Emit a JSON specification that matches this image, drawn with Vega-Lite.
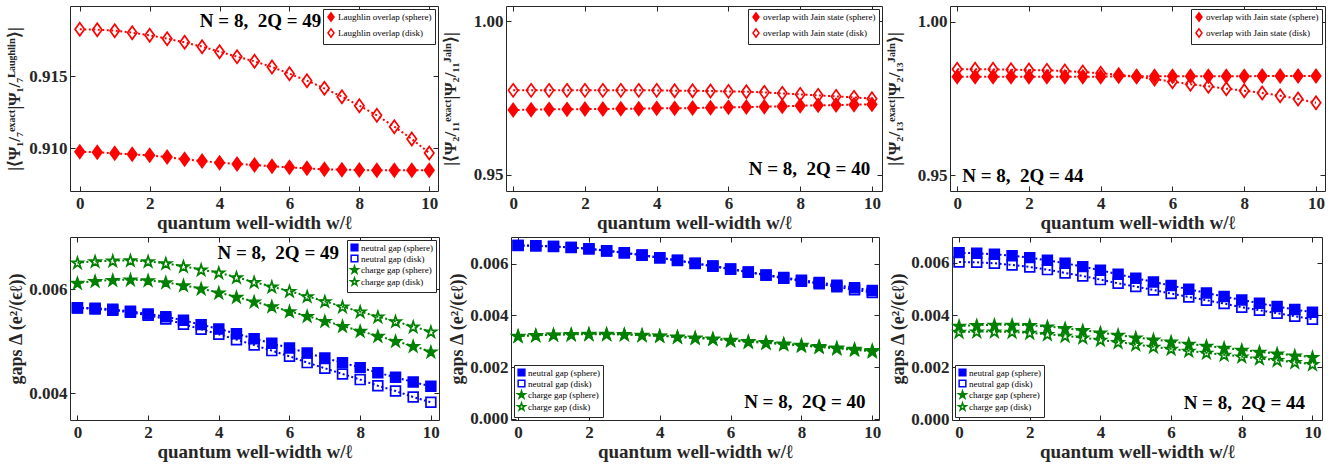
{
"$schema": "https://vega.github.io/schema/vega-lite/v6.json",
"padding": {"left": 4, "top": 5, "right": 5, "bottom": 3},
"config": {
 "font": "Liberation Serif",
 "view": {"stroke": "#262626", "strokeWidth": 1},
 "axis": {"labelFont": "Liberation Serif", "labelFontWeight": "bold", "labelFontSize": 17, "labelColor": "#262626", "titleFont": "Liberation Serif", "titleFontWeight": "bold", "titleFontSize": 19, "titleColor": "#262626", "tickColor": "#262626", "tickSize": -5, "tickWidth": 1, "domain": false, "grid": false, "labelPadding": 9, "titlePadding": 2, "labelFlush": false, "labelOverlap": false},
 "axisLeft": {"minExtent": 44, "maxExtent": 44, "titlePadding": 3, "titleFontSize": 17, "labelPadding": 8},
 "legend": {"offset": 3, "strokeColor": "#262626", "fillColor": "white", "padding": 3, "labelFont": "Liberation Serif", "labelFontSize": 9, "labelColor": "#000", "symbolSize": 70, "symbolStrokeWidth": 1.5, "rowPadding": 0, "labelOffset": 2, "cornerRadius": 0}
},
"datasets": {
 "p1": [
  {"w":0,"v":0.909769,"s":"Laughlin overlap (sphere)"},{"w":0.5,"v":0.909722,"s":"Laughlin overlap (sphere)"},{"w":1,"v":0.909653,"s":"Laughlin overlap (sphere)"},{"w":1.5,"v":0.909583,"s":"Laughlin overlap (sphere)"},{"w":2,"v":0.909514,"s":"Laughlin overlap (sphere)"},{"w":2.5,"v":0.909398,"s":"Laughlin overlap (sphere)"},{"w":3,"v":0.909236,"s":"Laughlin overlap (sphere)"},{"w":3.5,"v":0.90912,"s":"Laughlin overlap (sphere)"},{"w":4,"v":0.909005,"s":"Laughlin overlap (sphere)"},{"w":4.5,"v":0.908912,"s":"Laughlin overlap (sphere)"},{"w":5,"v":0.908843,"s":"Laughlin overlap (sphere)"},{"w":5.5,"v":0.90875,"s":"Laughlin overlap (sphere)"},{"w":6,"v":0.908681,"s":"Laughlin overlap (sphere)"},{"w":6.5,"v":0.908611,"s":"Laughlin overlap (sphere)"},{"w":7,"v":0.908542,"s":"Laughlin overlap (sphere)"},{"w":7.5,"v":0.908519,"s":"Laughlin overlap (sphere)"},{"w":8,"v":0.908495,"s":"Laughlin overlap (sphere)"},{"w":8.5,"v":0.908472,"s":"Laughlin overlap (sphere)"},{"w":9,"v":0.908472,"s":"Laughlin overlap (sphere)"},{"w":9.5,"v":0.908472,"s":"Laughlin overlap (sphere)"},{"w":10,"v":0.908472,"s":"Laughlin overlap (sphere)"},
  {"w":0,"v":0.918264,"s":"Laughlin overlap (disk)"},{"w":0.5,"v":0.918241,"s":"Laughlin overlap (disk)"},{"w":1,"v":0.918171,"s":"Laughlin overlap (disk)"},{"w":1.5,"v":0.918032,"s":"Laughlin overlap (disk)"},{"w":2,"v":0.917847,"s":"Laughlin overlap (disk)"},{"w":2.5,"v":0.917616,"s":"Laughlin overlap (disk)"},{"w":3,"v":0.917361,"s":"Laughlin overlap (disk)"},{"w":3.5,"v":0.91706,"s":"Laughlin overlap (disk)"},{"w":4,"v":0.916713,"s":"Laughlin overlap (disk)"},{"w":4.5,"v":0.916366,"s":"Laughlin overlap (disk)"},{"w":5,"v":0.916042,"s":"Laughlin overlap (disk)"},{"w":5.5,"v":0.915648,"s":"Laughlin overlap (disk)"},{"w":6,"v":0.915185,"s":"Laughlin overlap (disk)"},{"w":6.5,"v":0.914699,"s":"Laughlin overlap (disk)"},{"w":7,"v":0.914167,"s":"Laughlin overlap (disk)"},{"w":7.5,"v":0.913588,"s":"Laughlin overlap (disk)"},{"w":8,"v":0.912963,"s":"Laughlin overlap (disk)"},{"w":8.5,"v":0.912292,"s":"Laughlin overlap (disk)"},{"w":9,"v":0.911505,"s":"Laughlin overlap (disk)"},{"w":9.5,"v":0.910648,"s":"Laughlin overlap (disk)"},{"w":10,"v":0.909676,"s":"Laughlin overlap (disk)"}
 ],
 "p2": [
  {"w":0,"v":0.9711,"s":"overlap with Jain state (sphere)"},{"w":0.5,"v":0.97121,"s":"overlap with Jain state (sphere)"},{"w":1,"v":0.97132,"s":"overlap with Jain state (sphere)"},{"w":1.5,"v":0.97132,"s":"overlap with Jain state (sphere)"},{"w":2,"v":0.97143,"s":"overlap with Jain state (sphere)"},{"w":2.5,"v":0.97143,"s":"overlap with Jain state (sphere)"},{"w":3,"v":0.97154,"s":"overlap with Jain state (sphere)"},{"w":3.5,"v":0.97154,"s":"overlap with Jain state (sphere)"},{"w":4,"v":0.97165,"s":"overlap with Jain state (sphere)"},{"w":4.5,"v":0.97165,"s":"overlap with Jain state (sphere)"},{"w":5,"v":0.97175,"s":"overlap with Jain state (sphere)"},{"w":5.5,"v":0.97186,"s":"overlap with Jain state (sphere)"},{"w":6,"v":0.97197,"s":"overlap with Jain state (sphere)"},{"w":6.5,"v":0.97208,"s":"overlap with Jain state (sphere)"},{"w":7,"v":0.97219,"s":"overlap with Jain state (sphere)"},{"w":7.5,"v":0.97229,"s":"overlap with Jain state (sphere)"},{"w":8,"v":0.97251,"s":"overlap with Jain state (sphere)"},{"w":8.5,"v":0.97262,"s":"overlap with Jain state (sphere)"},{"w":9,"v":0.97273,"s":"overlap with Jain state (sphere)"},{"w":9.5,"v":0.97284,"s":"overlap with Jain state (sphere)"},{"w":10,"v":0.97294,"s":"overlap with Jain state (sphere)"},
  {"w":0,"v":0.97749,"s":"overlap with Jain state (disk)"},{"w":0.5,"v":0.97749,"s":"overlap with Jain state (disk)"},{"w":1,"v":0.97749,"s":"overlap with Jain state (disk)"},{"w":1.5,"v":0.97749,"s":"overlap with Jain state (disk)"},{"w":2,"v":0.97749,"s":"overlap with Jain state (disk)"},{"w":2.5,"v":0.97749,"s":"overlap with Jain state (disk)"},{"w":3,"v":0.97749,"s":"overlap with Jain state (disk)"},{"w":3.5,"v":0.97749,"s":"overlap with Jain state (disk)"},{"w":4,"v":0.97749,"s":"overlap with Jain state (disk)"},{"w":4.5,"v":0.97738,"s":"overlap with Jain state (disk)"},{"w":5,"v":0.97738,"s":"overlap with Jain state (disk)"},{"w":5.5,"v":0.97727,"s":"overlap with Jain state (disk)"},{"w":6,"v":0.97716,"s":"overlap with Jain state (disk)"},{"w":6.5,"v":0.97706,"s":"overlap with Jain state (disk)"},{"w":7,"v":0.97684,"s":"overlap with Jain state (disk)"},{"w":7.5,"v":0.97652,"s":"overlap with Jain state (disk)"},{"w":8,"v":0.97619,"s":"overlap with Jain state (disk)"},{"w":8.5,"v":0.97587,"s":"overlap with Jain state (disk)"},{"w":9,"v":0.97554,"s":"overlap with Jain state (disk)"},{"w":9.5,"v":0.97522,"s":"overlap with Jain state (disk)"},{"w":10,"v":0.97478,"s":"overlap with Jain state (disk)"}
 ],
 "p3": [
  {"w":0,"v":0.9821,"s":"overlap with Jain state (sphere)"},{"w":0.5,"v":0.9821,"s":"overlap with Jain state (sphere)"},{"w":1,"v":0.9821,"s":"overlap with Jain state (sphere)"},{"w":1.5,"v":0.9821,"s":"overlap with Jain state (sphere)"},{"w":2,"v":0.9821,"s":"overlap with Jain state (sphere)"},{"w":2.5,"v":0.9821,"s":"overlap with Jain state (sphere)"},{"w":3,"v":0.9821,"s":"overlap with Jain state (sphere)"},{"w":3.5,"v":0.9821,"s":"overlap with Jain state (sphere)"},{"w":4,"v":0.9821,"s":"overlap with Jain state (sphere)"},{"w":4.5,"v":0.98221,"s":"overlap with Jain state (sphere)"},{"w":5,"v":0.98221,"s":"overlap with Jain state (sphere)"},{"w":5.5,"v":0.98221,"s":"overlap with Jain state (sphere)"},{"w":6,"v":0.98221,"s":"overlap with Jain state (sphere)"},{"w":6.5,"v":0.98221,"s":"overlap with Jain state (sphere)"},{"w":7,"v":0.98221,"s":"overlap with Jain state (sphere)"},{"w":7.5,"v":0.98221,"s":"overlap with Jain state (sphere)"},{"w":8,"v":0.98221,"s":"overlap with Jain state (sphere)"},{"w":8.5,"v":0.98232,"s":"overlap with Jain state (sphere)"},{"w":9,"v":0.98232,"s":"overlap with Jain state (sphere)"},{"w":9.5,"v":0.98232,"s":"overlap with Jain state (sphere)"},{"w":10,"v":0.98232,"s":"overlap with Jain state (sphere)"},
  {"w":0,"v":0.98449,"s":"overlap with Jain state (disk)"},{"w":0.5,"v":0.98449,"s":"overlap with Jain state (disk)"},{"w":1,"v":0.98449,"s":"overlap with Jain state (disk)"},{"w":1.5,"v":0.98438,"s":"overlap with Jain state (disk)"},{"w":2,"v":0.98427,"s":"overlap with Jain state (disk)"},{"w":2.5,"v":0.98416,"s":"overlap with Jain state (disk)"},{"w":3,"v":0.98395,"s":"overlap with Jain state (disk)"},{"w":3.5,"v":0.98362,"s":"overlap with Jain state (disk)"},{"w":4,"v":0.98319,"s":"overlap with Jain state (disk)"},{"w":4.5,"v":0.98275,"s":"overlap with Jain state (disk)"},{"w":5,"v":0.9821,"s":"overlap with Jain state (disk)"},{"w":5.5,"v":0.98134,"s":"overlap with Jain state (disk)"},{"w":6,"v":0.98048,"s":"overlap with Jain state (disk)"},{"w":6.5,"v":0.97961,"s":"overlap with Jain state (disk)"},{"w":7,"v":0.97896,"s":"overlap with Jain state (disk)"},{"w":7.5,"v":0.9782,"s":"overlap with Jain state (disk)"},{"w":8,"v":0.97755,"s":"overlap with Jain state (disk)"},{"w":8.5,"v":0.97679,"s":"overlap with Jain state (disk)"},{"w":9,"v":0.97592,"s":"overlap with Jain state (disk)"},{"w":9.5,"v":0.97484,"s":"overlap with Jain state (disk)"},{"w":10,"v":0.97364,"s":"overlap with Jain state (disk)"}
 ],
 "p4": [
  {"w":0,"v":0.005647,"s":"neutral gap (sphere)"},{"w":0.5,"v":0.005635,"s":"neutral gap (sphere)"},{"w":1,"v":0.005615,"s":"neutral gap (sphere)"},{"w":1.5,"v":0.005577,"s":"neutral gap (sphere)"},{"w":2,"v":0.005526,"s":"neutral gap (sphere)"},{"w":2.5,"v":0.005474,"s":"neutral gap (sphere)"},{"w":3,"v":0.005404,"s":"neutral gap (sphere)"},{"w":3.5,"v":0.005321,"s":"neutral gap (sphere)"},{"w":4,"v":0.005237,"s":"neutral gap (sphere)"},{"w":4.5,"v":0.005147,"s":"neutral gap (sphere)"},{"w":5,"v":0.005051,"s":"neutral gap (sphere)"},{"w":5.5,"v":0.004962,"s":"neutral gap (sphere)"},{"w":6,"v":0.004872,"s":"neutral gap (sphere)"},{"w":6.5,"v":0.004776,"s":"neutral gap (sphere)"},{"w":7,"v":0.004679,"s":"neutral gap (sphere)"},{"w":7.5,"v":0.00459,"s":"neutral gap (sphere)"},{"w":8,"v":0.004494,"s":"neutral gap (sphere)"},{"w":8.5,"v":0.004397,"s":"neutral gap (sphere)"},{"w":9,"v":0.004308,"s":"neutral gap (sphere)"},{"w":9.5,"v":0.004218,"s":"neutral gap (sphere)"},{"w":10,"v":0.004135,"s":"neutral gap (sphere)"},
  {"w":0,"v":0.005641,"s":"neutral gap (disk)"},{"w":0.5,"v":0.005622,"s":"neutral gap (disk)"},{"w":1,"v":0.005596,"s":"neutral gap (disk)"},{"w":1.5,"v":0.005558,"s":"neutral gap (disk)"},{"w":2,"v":0.0055,"s":"neutral gap (disk)"},{"w":2.5,"v":0.005429,"s":"neutral gap (disk)"},{"w":3,"v":0.00533,"s":"neutral gap (disk)"},{"w":3.5,"v":0.005231,"s":"neutral gap (disk)"},{"w":4,"v":0.005135,"s":"neutral gap (disk)"},{"w":4.5,"v":0.005032,"s":"neutral gap (disk)"},{"w":5,"v":0.004929,"s":"neutral gap (disk)"},{"w":5.5,"v":0.004821,"s":"neutral gap (disk)"},{"w":6,"v":0.004712,"s":"neutral gap (disk)"},{"w":6.5,"v":0.00459,"s":"neutral gap (disk)"},{"w":7,"v":0.004481,"s":"neutral gap (disk)"},{"w":7.5,"v":0.004372,"s":"neutral gap (disk)"},{"w":8,"v":0.004263,"s":"neutral gap (disk)"},{"w":8.5,"v":0.004147,"s":"neutral gap (disk)"},{"w":9,"v":0.004045,"s":"neutral gap (disk)"},{"w":9.5,"v":0.003929,"s":"neutral gap (disk)"},{"w":10,"v":0.003827,"s":"neutral gap (disk)"},
  {"w":0,"v":0.006122,"s":"charge gap (sphere)"},{"w":0.5,"v":0.00616,"s":"charge gap (sphere)"},{"w":1,"v":0.006179,"s":"charge gap (sphere)"},{"w":1.5,"v":0.006186,"s":"charge gap (sphere)"},{"w":2,"v":0.006173,"s":"charge gap (sphere)"},{"w":2.5,"v":0.006135,"s":"charge gap (sphere)"},{"w":3,"v":0.006077,"s":"charge gap (sphere)"},{"w":3.5,"v":0.006013,"s":"charge gap (sphere)"},{"w":4,"v":0.005936,"s":"charge gap (sphere)"},{"w":4.5,"v":0.005853,"s":"charge gap (sphere)"},{"w":5,"v":0.005763,"s":"charge gap (sphere)"},{"w":5.5,"v":0.005673,"s":"charge gap (sphere)"},{"w":6,"v":0.005577,"s":"charge gap (sphere)"},{"w":6.5,"v":0.005487,"s":"charge gap (sphere)"},{"w":7,"v":0.005391,"s":"charge gap (sphere)"},{"w":7.5,"v":0.005295,"s":"charge gap (sphere)"},{"w":8,"v":0.005199,"s":"charge gap (sphere)"},{"w":8.5,"v":0.005103,"s":"charge gap (sphere)"},{"w":9,"v":0.005006,"s":"charge gap (sphere)"},{"w":9.5,"v":0.00491,"s":"charge gap (sphere)"},{"w":10,"v":0.004801,"s":"charge gap (sphere)"},
  {"w":0,"v":0.006513,"s":"charge gap (disk)"},{"w":0.5,"v":0.006538,"s":"charge gap (disk)"},{"w":1,"v":0.006551,"s":"charge gap (disk)"},{"w":1.5,"v":0.006558,"s":"charge gap (disk)"},{"w":2,"v":0.006538,"s":"charge gap (disk)"},{"w":2.5,"v":0.0065,"s":"charge gap (disk)"},{"w":3,"v":0.006442,"s":"charge gap (disk)"},{"w":3.5,"v":0.006378,"s":"charge gap (disk)"},{"w":4,"v":0.006321,"s":"charge gap (disk)"},{"w":4.5,"v":0.006231,"s":"charge gap (disk)"},{"w":5,"v":0.006141,"s":"charge gap (disk)"},{"w":5.5,"v":0.006051,"s":"charge gap (disk)"},{"w":6,"v":0.005968,"s":"charge gap (disk)"},{"w":6.5,"v":0.005865,"s":"charge gap (disk)"},{"w":7,"v":0.005769,"s":"charge gap (disk)"},{"w":7.5,"v":0.005667,"s":"charge gap (disk)"},{"w":8,"v":0.005571,"s":"charge gap (disk)"},{"w":8.5,"v":0.005474,"s":"charge gap (disk)"},{"w":9,"v":0.005385,"s":"charge gap (disk)"},{"w":9.5,"v":0.005282,"s":"charge gap (disk)"},{"w":10,"v":0.005186,"s":"charge gap (disk)"}
 ],
 "p5": [
  {"w":0,"v":0.006705,"s":"neutral gap (sphere)"},{"w":0.5,"v":0.006692,"s":"neutral gap (sphere)"},{"w":1,"v":0.006667,"s":"neutral gap (sphere)"},{"w":1.5,"v":0.006628,"s":"neutral gap (sphere)"},{"w":2,"v":0.006577,"s":"neutral gap (sphere)"},{"w":2.5,"v":0.0065,"s":"neutral gap (sphere)"},{"w":3,"v":0.006423,"s":"neutral gap (sphere)"},{"w":3.5,"v":0.006333,"s":"neutral gap (sphere)"},{"w":4,"v":0.006231,"s":"neutral gap (sphere)"},{"w":4.5,"v":0.006128,"s":"neutral gap (sphere)"},{"w":5,"v":0.006013,"s":"neutral gap (sphere)"},{"w":5.5,"v":0.00591,"s":"neutral gap (sphere)"},{"w":6,"v":0.005795,"s":"neutral gap (sphere)"},{"w":6.5,"v":0.005679,"s":"neutral gap (sphere)"},{"w":7,"v":0.005564,"s":"neutral gap (sphere)"},{"w":7.5,"v":0.005462,"s":"neutral gap (sphere)"},{"w":8,"v":0.005359,"s":"neutral gap (sphere)"},{"w":8.5,"v":0.005269,"s":"neutral gap (sphere)"},{"w":9,"v":0.005167,"s":"neutral gap (sphere)"},{"w":9.5,"v":0.005064,"s":"neutral gap (sphere)"},{"w":10,"v":0.004962,"s":"neutral gap (sphere)"},
  {"w":0,"v":0.0067,"s":"neutral gap (disk)"},{"w":0.5,"v":0.006687,"s":"neutral gap (disk)"},{"w":1,"v":0.00666,"s":"neutral gap (disk)"},{"w":1.5,"v":0.00662,"s":"neutral gap (disk)"},{"w":2,"v":0.00657,"s":"neutral gap (disk)"},{"w":2.5,"v":0.006492,"s":"neutral gap (disk)"},{"w":3,"v":0.006415,"s":"neutral gap (disk)"},{"w":3.5,"v":0.006325,"s":"neutral gap (disk)"},{"w":4,"v":0.006222,"s":"neutral gap (disk)"},{"w":4.5,"v":0.006118,"s":"neutral gap (disk)"},{"w":5,"v":0.006003,"s":"neutral gap (disk)"},{"w":5.5,"v":0.005898,"s":"neutral gap (disk)"},{"w":6,"v":0.005782,"s":"neutral gap (disk)"},{"w":6.5,"v":0.005665,"s":"neutral gap (disk)"},{"w":7,"v":0.005548,"s":"neutral gap (disk)"},{"w":7.5,"v":0.005436,"s":"neutral gap (disk)"},{"w":8,"v":0.005321,"s":"neutral gap (disk)"},{"w":8.5,"v":0.005218,"s":"neutral gap (disk)"},{"w":9,"v":0.005103,"s":"neutral gap (disk)"},{"w":9.5,"v":0.004987,"s":"neutral gap (disk)"},{"w":10,"v":0.004885,"s":"neutral gap (disk)"},
  {"w":0,"v":0.003205,"s":"charge gap (sphere)"},{"w":0.5,"v":0.003231,"s":"charge gap (sphere)"},{"w":1,"v":0.003256,"s":"charge gap (sphere)"},{"w":1.5,"v":0.003269,"s":"charge gap (sphere)"},{"w":2,"v":0.003282,"s":"charge gap (sphere)"},{"w":2.5,"v":0.003282,"s":"charge gap (sphere)"},{"w":3,"v":0.003269,"s":"charge gap (sphere)"},{"w":3.5,"v":0.003244,"s":"charge gap (sphere)"},{"w":4,"v":0.003218,"s":"charge gap (sphere)"},{"w":4.5,"v":0.003179,"s":"charge gap (sphere)"},{"w":5,"v":0.003141,"s":"charge gap (sphere)"},{"w":5.5,"v":0.003103,"s":"charge gap (sphere)"},{"w":6,"v":0.003051,"s":"charge gap (sphere)"},{"w":6.5,"v":0.003,"s":"charge gap (sphere)"},{"w":7,"v":0.002962,"s":"charge gap (sphere)"},{"w":7.5,"v":0.00291,"s":"charge gap (sphere)"},{"w":8,"v":0.002859,"s":"charge gap (sphere)"},{"w":8.5,"v":0.002808,"s":"charge gap (sphere)"},{"w":9,"v":0.002756,"s":"charge gap (sphere)"},{"w":9.5,"v":0.002705,"s":"charge gap (sphere)"},{"w":10,"v":0.002654,"s":"charge gap (sphere)"},
  {"w":0,"v":0.0032,"s":"charge gap (disk)"},{"w":0.5,"v":0.003225,"s":"charge gap (disk)"},{"w":1,"v":0.003249,"s":"charge gap (disk)"},{"w":1.5,"v":0.003261,"s":"charge gap (disk)"},{"w":2,"v":0.003272,"s":"charge gap (disk)"},{"w":2.5,"v":0.003271,"s":"charge gap (disk)"},{"w":3,"v":0.003256,"s":"charge gap (disk)"},{"w":3.5,"v":0.003229,"s":"charge gap (disk)"},{"w":4,"v":0.003201,"s":"charge gap (disk)"},{"w":4.5,"v":0.00316,"s":"charge gap (disk)"},{"w":5,"v":0.00312,"s":"charge gap (disk)"},{"w":5.5,"v":0.00308,"s":"charge gap (disk)"},{"w":6,"v":0.003026,"s":"charge gap (disk)"},{"w":6.5,"v":0.002973,"s":"charge gap (disk)"},{"w":7,"v":0.002933,"s":"charge gap (disk)"},{"w":7.5,"v":0.002879,"s":"charge gap (disk)"},{"w":8,"v":0.002826,"s":"charge gap (disk)"},{"w":8.5,"v":0.002773,"s":"charge gap (disk)"},{"w":9,"v":0.002719,"s":"charge gap (disk)"},{"w":9.5,"v":0.002666,"s":"charge gap (disk)"},{"w":10,"v":0.002603,"s":"charge gap (disk)"}
 ],
 "p6": [
  {"w":0,"v":0.006395,"s":"neutral gap (sphere)"},{"w":0.5,"v":0.006369,"s":"neutral gap (sphere)"},{"w":1,"v":0.006331,"s":"neutral gap (sphere)"},{"w":1.5,"v":0.00628,"s":"neutral gap (sphere)"},{"w":2,"v":0.006204,"s":"neutral gap (sphere)"},{"w":2.5,"v":0.006102,"s":"neutral gap (sphere)"},{"w":3,"v":0.005987,"s":"neutral gap (sphere)"},{"w":3.5,"v":0.00586,"s":"neutral gap (sphere)"},{"w":4,"v":0.00572,"s":"neutral gap (sphere)"},{"w":4.5,"v":0.005567,"s":"neutral gap (sphere)"},{"w":5,"v":0.005414,"s":"neutral gap (sphere)"},{"w":5.5,"v":0.005274,"s":"neutral gap (sphere)"},{"w":6,"v":0.005134,"s":"neutral gap (sphere)"},{"w":6.5,"v":0.004994,"s":"neutral gap (sphere)"},{"w":7,"v":0.004854,"s":"neutral gap (sphere)"},{"w":7.5,"v":0.004713,"s":"neutral gap (sphere)"},{"w":8,"v":0.004586,"s":"neutral gap (sphere)"},{"w":8.5,"v":0.004459,"s":"neutral gap (sphere)"},{"w":9,"v":0.004331,"s":"neutral gap (sphere)"},{"w":9.5,"v":0.004217,"s":"neutral gap (sphere)"},{"w":10,"v":0.004115,"s":"neutral gap (sphere)"},
  {"w":0,"v":0.006038,"s":"neutral gap (disk)"},{"w":0.5,"v":0.006025,"s":"neutral gap (disk)"},{"w":1,"v":0.005987,"s":"neutral gap (disk)"},{"w":1.5,"v":0.005924,"s":"neutral gap (disk)"},{"w":2,"v":0.005847,"s":"neutral gap (disk)"},{"w":2.5,"v":0.005745,"s":"neutral gap (disk)"},{"w":3,"v":0.005618,"s":"neutral gap (disk)"},{"w":3.5,"v":0.005503,"s":"neutral gap (disk)"},{"w":4,"v":0.005363,"s":"neutral gap (disk)"},{"w":4.5,"v":0.005223,"s":"neutral gap (disk)"},{"w":5,"v":0.005096,"s":"neutral gap (disk)"},{"w":5.5,"v":0.004968,"s":"neutral gap (disk)"},{"w":6,"v":0.004828,"s":"neutral gap (disk)"},{"w":6.5,"v":0.004701,"s":"neutral gap (disk)"},{"w":7,"v":0.004573,"s":"neutral gap (disk)"},{"w":7.5,"v":0.004446,"s":"neutral gap (disk)"},{"w":8,"v":0.004306,"s":"neutral gap (disk)"},{"w":8.5,"v":0.004191,"s":"neutral gap (disk)"},{"w":9,"v":0.004076,"s":"neutral gap (disk)"},{"w":9.5,"v":0.003962,"s":"neutral gap (disk)"},{"w":10,"v":0.003847,"s":"neutral gap (disk)"},
  {"w":0,"v":0.003592,"s":"charge gap (sphere)"},{"w":0.5,"v":0.003618,"s":"charge gap (sphere)"},{"w":1,"v":0.003631,"s":"charge gap (sphere)"},{"w":1.5,"v":0.003631,"s":"charge gap (sphere)"},{"w":2,"v":0.003618,"s":"charge gap (sphere)"},{"w":2.5,"v":0.003567,"s":"charge gap (sphere)"},{"w":3,"v":0.003503,"s":"charge gap (sphere)"},{"w":3.5,"v":0.003427,"s":"charge gap (sphere)"},{"w":4,"v":0.003338,"s":"charge gap (sphere)"},{"w":4.5,"v":0.003248,"s":"charge gap (sphere)"},{"w":5,"v":0.003146,"s":"charge gap (sphere)"},{"w":5.5,"v":0.00307,"s":"charge gap (sphere)"},{"w":6,"v":0.002994,"s":"charge gap (sphere)"},{"w":6.5,"v":0.002904,"s":"charge gap (sphere)"},{"w":7,"v":0.002828,"s":"charge gap (sphere)"},{"w":7.5,"v":0.002752,"s":"charge gap (sphere)"},{"w":8,"v":0.002675,"s":"charge gap (sphere)"},{"w":8.5,"v":0.002599,"s":"charge gap (sphere)"},{"w":9,"v":0.002535,"s":"charge gap (sphere)"},{"w":9.5,"v":0.002459,"s":"charge gap (sphere)"},{"w":10,"v":0.002395,"s":"charge gap (sphere)"},
  {"w":0,"v":0.003363,"s":"charge gap (disk)"},{"w":0.5,"v":0.003376,"s":"charge gap (disk)"},{"w":1,"v":0.003376,"s":"charge gap (disk)"},{"w":1.5,"v":0.003363,"s":"charge gap (disk)"},{"w":2,"v":0.003325,"s":"charge gap (disk)"},{"w":2.5,"v":0.003274,"s":"charge gap (disk)"},{"w":3,"v":0.00321,"s":"charge gap (disk)"},{"w":3.5,"v":0.003146,"s":"charge gap (disk)"},{"w":4,"v":0.003057,"s":"charge gap (disk)"},{"w":4.5,"v":0.002968,"s":"charge gap (disk)"},{"w":5,"v":0.002879,"s":"charge gap (disk)"},{"w":5.5,"v":0.00279,"s":"charge gap (disk)"},{"w":6,"v":0.002713,"s":"charge gap (disk)"},{"w":6.5,"v":0.002637,"s":"charge gap (disk)"},{"w":7,"v":0.002561,"s":"charge gap (disk)"},{"w":7.5,"v":0.002484,"s":"charge gap (disk)"},{"w":8,"v":0.00242,"s":"charge gap (disk)"},{"w":8.5,"v":0.002344,"s":"charge gap (disk)"},{"w":9,"v":0.00228,"s":"charge gap (disk)"},{"w":9.5,"v":0.002204,"s":"charge gap (disk)"},{"w":10,"v":0.002127,"s":"charge gap (disk)"}
 ]
},
"spacing": 3,
"resolve": {"scale": {"stroke": "independent", "fill": "independent", "shape": "independent"}, "legend": {"stroke": "independent", "fill": "independent", "shape": "independent"}},
"vconcat": [
 {"spacing": 1,
  "resolve": {"scale": {"stroke": "independent", "fill": "independent", "shape": "independent"}, "legend": {"stroke": "independent", "fill": "independent", "shape": "independent"}},
  "hconcat": [
  {"width": 368, "height": 185, "data": {"name": "p1"},
   "layer": [
    {"mark": {"type": "point", "opacity": 1, "strokeWidth": 1.7, "size": 170},
     "encoding": {
      "x": {"field": "w", "type": "quantitative", "scale": {"domain": [-0.28, 10.25], "nice": false, "zero": false}, "axis": {"orient": "top", "values": [0,2,4,6,8,10], "labels": false, "title": null}},
      "y": {"field": "v", "type": "quantitative", "scale": {"domain": [0.907037, 0.919884], "nice": false, "zero": false}, "axis": {"orient": "right", "values": [0.91, 0.915], "labels": false, "title": null}},
      "stroke": {"field": "s", "type": "nominal", "scale": {"domain": ["Laughlin overlap (sphere)", "Laughlin overlap (disk)"], "range": ["#ff0000", "#ff0000"]}, "legend": {"title": null, "orient": "top-right"}},
      "fill": {"field": "s", "type": "nominal", "scale": {"domain": ["Laughlin overlap (sphere)", "Laughlin overlap (disk)"], "range": ["#ff0000", "transparent"]}, "legend": {"title": null, "orient": "top-right"}},
      "shape": {"field": "s", "type": "nominal", "scale": {"domain": ["Laughlin overlap (sphere)", "Laughlin overlap (disk)"], "range": ["M0,-1L0.72,0L0,1L-0.72,0Z", "M0,-1L0.72,0L0,1L-0.72,0Z"]}, "legend": {"title": null, "orient": "top-right"}}
     }},
    {"mark": {"type": "line", "strokeDash": [2, 2.5], "strokeWidth": 2},
     "encoding": {
      "x": {"field": "w", "type": "quantitative", "axis": {"orient": "bottom", "values": [0,2,4,6,8,10], "title": "quantum well-width w/ℓ"}},
      "y": {"field": "v", "type": "quantitative", "axis": {"orient": "left", "values": [0.91, 0.915], "format": ".3f", "title": "|⟨Ψ₁/₇ᵉˣᵃᶜᵗ|Ψ₁/₇ᴸᵃᵘᵍʰˡⁱⁿ⟩|"}},
      "stroke": {"field": "s", "type": "nominal", "legend": null}
     }},
    {"data": {"values": [{"w": 6.91, "v": 0.91884, "t": "N = 8,\u00a0 2Q = 49"}]},
     "mark": {"type": "text", "align": "right", "baseline": "middle", "font": "Liberation Serif", "fontWeight": "bold", "fontSize": 19, "color": "#000"},
     "encoding": {"x": {"field": "w", "type": "quantitative", "axis": null}, "y": {"field": "v", "type": "quantitative", "axis": null}, "text": {"field": "t"}}}
   ]},
  {"width": 376, "height": 185, "data": {"name": "p2"},
   "layer": [
    {"mark": {"type": "point", "opacity": 1, "strokeWidth": 1.7, "size": 170},
     "encoding": {
      "x": {"field": "w", "type": "quantitative", "scale": {"domain": [-0.2, 10.28], "nice": false, "zero": false}, "axis": {"orient": "top", "values": [0,2,4,6,8,10], "labels": false, "title": null}},
      "y": {"field": "v", "type": "quantitative", "scale": {"domain": [0.9448, 1.0049], "nice": false, "zero": false}, "axis": {"orient": "right", "values": [0.95, 1.0], "labels": false, "title": null}},
      "stroke": {"field": "s", "type": "nominal", "scale": {"domain": ["overlap with Jain state (sphere)", "overlap with Jain state (disk)"], "range": ["#ff0000", "#ff0000"]}, "legend": {"title": null, "orient": "top-right"}},
      "fill": {"field": "s", "type": "nominal", "scale": {"domain": ["overlap with Jain state (sphere)", "overlap with Jain state (disk)"], "range": ["#ff0000", "transparent"]}, "legend": {"title": null, "orient": "top-right"}},
      "shape": {"field": "s", "type": "nominal", "scale": {"domain": ["overlap with Jain state (sphere)", "overlap with Jain state (disk)"], "range": ["M0,-1L0.72,0L0,1L-0.72,0Z", "M0,-1L0.72,0L0,1L-0.72,0Z"]}, "legend": {"title": null, "orient": "top-right"}}
     }},
    {"mark": {"type": "line", "strokeDash": [2, 2.5], "strokeWidth": 2},
     "encoding": {
      "x": {"field": "w", "type": "quantitative", "axis": {"orient": "bottom", "values": [0,2,4,6,8,10], "title": "quantum well-width w/ℓ"}},
      "y": {"field": "v", "type": "quantitative", "axis": {"orient": "left", "values": [0.95, 1.0], "format": ".2f", "title": "|⟨Ψ₂/₁₁ᵉˣᵃᶜᵗ|Ψ₂/₁₁ᴶᵃⁱⁿ⟩|"}},
      "stroke": {"field": "s", "type": "nominal", "legend": null}
     }},
    {"data": {"values": [{"w": 9.95, "v": 0.95195, "t": "N = 8,\u00a0 2Q = 40"}]},
     "mark": {"type": "text", "align": "right", "baseline": "middle", "font": "Liberation Serif", "fontWeight": "bold", "fontSize": 19, "color": "#000"},
     "encoding": {"x": {"field": "w", "type": "quantitative", "axis": null}, "y": {"field": "v", "type": "quantitative", "axis": null}, "text": {"field": "t"}}}
   ]},
  {"width": 375, "height": 185, "data": {"name": "p3"},
   "layer": [
    {"mark": {"type": "point", "opacity": 1, "strokeWidth": 1.7, "size": 170},
     "encoding": {
      "x": {"field": "w", "type": "quantitative", "scale": {"domain": [-0.2, 10.25], "nice": false, "zero": false}, "axis": {"orient": "top", "values": [0,2,4,6,8,10], "labels": false, "title": null}},
      "y": {"field": "v", "type": "quantitative", "scale": {"domain": [0.9449, 1.0051], "nice": false, "zero": false}, "axis": {"orient": "right", "values": [0.95, 1.0], "labels": false, "title": null}},
      "stroke": {"field": "s", "type": "nominal", "scale": {"domain": ["overlap with Jain state (sphere)", "overlap with Jain state (disk)"], "range": ["#ff0000", "#ff0000"]}, "legend": {"title": null, "orient": "top-right"}},
      "fill": {"field": "s", "type": "nominal", "scale": {"domain": ["overlap with Jain state (sphere)", "overlap with Jain state (disk)"], "range": ["#ff0000", "transparent"]}, "legend": {"title": null, "orient": "top-right"}},
      "shape": {"field": "s", "type": "nominal", "scale": {"domain": ["overlap with Jain state (sphere)", "overlap with Jain state (disk)"], "range": ["M0,-1L0.72,0L0,1L-0.72,0Z", "M0,-1L0.72,0L0,1L-0.72,0Z"]}, "legend": {"title": null, "orient": "top-right"}}
     }},
    {"mark": {"type": "line", "strokeDash": [2, 2.5], "strokeWidth": 2},
     "encoding": {
      "x": {"field": "w", "type": "quantitative", "axis": {"orient": "bottom", "values": [0,2,4,6,8,10], "title": "quantum well-width w/ℓ"}},
      "y": {"field": "v", "type": "quantitative", "axis": {"orient": "left", "values": [0.95, 1.0], "format": ".2f", "title": "|⟨Ψ₂/₁₃ᵉˣᵃᶜᵗ|Ψ₂/₁₃ᴶᵃⁱⁿ⟩|"}},
      "stroke": {"field": "s", "type": "nominal", "legend": null}
     }},
    {"data": {"values": [{"w": 0.14, "v": 0.9498, "t": "N = 8,\u00a0 2Q = 44"}]},
     "mark": {"type": "text", "align": "left", "baseline": "middle", "font": "Liberation Serif", "fontWeight": "bold", "fontSize": 19, "color": "#000"},
     "encoding": {"x": {"field": "w", "type": "quantitative", "axis": null}, "y": {"field": "v", "type": "quantitative", "axis": null}, "text": {"field": "t"}}}
   ]}
 ]},
 {"spacing": 6,
  "resolve": {"scale": {"stroke": "independent", "fill": "independent", "shape": "independent"}, "legend": {"stroke": "independent", "fill": "independent", "shape": "independent"}},
  "hconcat": [
  {"width": 369, "height": 183, "data": {"name": "p4"},
   "layer": [
    {"mark": {"type": "point", "opacity": 1, "strokeWidth": 1.7, "size": 95},
     "encoding": {
      "x": {"field": "w", "type": "quantitative", "scale": {"domain": [-0.21, 10.23], "nice": false, "zero": false}, "axis": {"orient": "top", "values": [0,2,4,6,8,10], "labels": false, "title": null}},
      "y": {"field": "v", "type": "quantitative", "scale": {"domain": [0.003487, 0.007006], "nice": false, "zero": false}, "axis": {"orient": "right", "values": [0.004, 0.006], "labels": false, "title": null}},
      "stroke": {"field": "s", "type": "nominal", "scale": {"domain": ["neutral gap (sphere)", "neutral gap (disk)", "charge gap (sphere)", "charge gap (disk)"], "range": ["#0000ff", "#0000ff", "#008000", "#008000"]}, "legend": {"title": null, "orient": "top-right", "symbolSize": 45, "rowPadding": -3}},
      "fill": {"field": "s", "type": "nominal", "scale": {"domain": ["neutral gap (sphere)", "neutral gap (disk)", "charge gap (sphere)", "charge gap (disk)"], "range": ["#0000ff", "transparent", "#008000", "transparent"]}, "legend": {"title": null, "orient": "top-right", "symbolSize": 45, "rowPadding": -3}},
      "shape": {"field": "s", "type": "nominal", "scale": {"domain": ["neutral gap (sphere)", "neutral gap (disk)", "charge gap (sphere)", "charge gap (disk)"], "range": ["square", "square", "M0,-1.085L0.2694,-0.2558L1.1412,-0.2558L0.4356,0.2566L0.7056,1.0858L0,0.5734L-0.7056,1.0858L-0.4356,0.2566L-1.1412,-0.2558L-0.2694,-0.2558Z", "M0,-1.085L0.2694,-0.2558L1.1412,-0.2558L0.4356,0.2566L0.7056,1.0858L0,0.5734L-0.7056,1.0858L-0.4356,0.2566L-1.1412,-0.2558L-0.2694,-0.2558Z"]}, "legend": {"title": null, "orient": "top-right", "symbolSize": 45, "rowPadding": -3}}
     }},
    {"mark": {"type": "line", "strokeDash": [2, 2.5], "strokeWidth": 2},
     "encoding": {
      "x": {"field": "w", "type": "quantitative", "axis": {"orient": "bottom", "values": [0,2,4,6,8,10], "title": "quantum well-width w/ℓ"}},
      "y": {"field": "v", "type": "quantitative", "axis": {"orient": "left", "values": [0.004, 0.006], "format": ".3f", "titleFontSize": 18, "titlePadding": 1, "title": "gaps Δ (e²/(ϵℓ))"}},
      "stroke": {"field": "s", "type": "nominal", "legend": null}
     }},
    {"data": {"values": [{"w": 7.4, "v": 0.006705, "t": "N = 8,\u00a0 2Q = 49"}]},
     "mark": {"type": "text", "align": "right", "baseline": "middle", "font": "Liberation Serif", "fontWeight": "bold", "fontSize": 19, "color": "#000"},
     "encoding": {"x": {"field": "w", "type": "quantitative", "axis": null}, "y": {"field": "v", "type": "quantitative", "axis": null}, "text": {"field": "t"}}}
   ]},
  {"width": 368, "height": 183, "data": {"name": "p5"},
   "layer": [
    {"mark": {"type": "point", "opacity": 1, "strokeWidth": 1.7, "size": 95},
     "encoding": {
      "x": {"field": "w", "type": "quantitative", "scale": {"domain": [-0.2, 10.19], "nice": false, "zero": false}, "axis": {"orient": "top", "values": [0,2,4,6,8,10], "labels": false, "title": null}},
      "y": {"field": "v", "type": "quantitative", "scale": {"domain": [-0.00005, 0.00703], "nice": false, "zero": false}, "axis": {"orient": "right", "values": [0, 0.002, 0.004, 0.006], "labels": false, "title": null}},
      "stroke": {"field": "s", "type": "nominal", "scale": {"domain": ["neutral gap (sphere)", "neutral gap (disk)", "charge gap (sphere)", "charge gap (disk)"], "range": ["#0000ff", "#0000ff", "#008000", "#008000"]}, "legend": {"title": null, "orient": "bottom-left", "symbolSize": 45, "rowPadding": -3}},
      "fill": {"field": "s", "type": "nominal", "scale": {"domain": ["neutral gap (sphere)", "neutral gap (disk)", "charge gap (sphere)", "charge gap (disk)"], "range": ["#0000ff", "transparent", "#008000", "transparent"]}, "legend": {"title": null, "orient": "bottom-left", "symbolSize": 45, "rowPadding": -3}},
      "shape": {"field": "s", "type": "nominal", "scale": {"domain": ["neutral gap (sphere)", "neutral gap (disk)", "charge gap (sphere)", "charge gap (disk)"], "range": ["square", "square", "M0,-1.085L0.2694,-0.2558L1.1412,-0.2558L0.4356,0.2566L0.7056,1.0858L0,0.5734L-0.7056,1.0858L-0.4356,0.2566L-1.1412,-0.2558L-0.2694,-0.2558Z", "M0,-1.085L0.2694,-0.2558L1.1412,-0.2558L0.4356,0.2566L0.7056,1.0858L0,0.5734L-0.7056,1.0858L-0.4356,0.2566L-1.1412,-0.2558L-0.2694,-0.2558Z"]}, "legend": {"title": null, "orient": "bottom-left", "symbolSize": 45, "rowPadding": -3}}
     }},
    {"mark": {"type": "line", "strokeDash": [2, 2.5], "strokeWidth": 2},
     "encoding": {
      "x": {"field": "w", "type": "quantitative", "axis": {"orient": "bottom", "values": [0,2,4,6,8,10], "title": "quantum well-width w/ℓ"}},
      "y": {"field": "v", "type": "quantitative", "axis": {"orient": "left", "values": [0, 0.002, 0.004, 0.006], "format": ".3f", "titleFontSize": 18, "titlePadding": 1, "title": "gaps Δ (e²/(ϵℓ))"}},
      "stroke": {"field": "s", "type": "nominal", "legend": null}
     }},
    {"data": {"values": [{"w": 9.81, "v": 0.000654, "t": "N = 8,\u00a0 2Q = 40"}]},
     "mark": {"type": "text", "align": "right", "baseline": "middle", "font": "Liberation Serif", "fontWeight": "bold", "fontSize": 19, "color": "#000"},
     "encoding": {"x": {"field": "w", "type": "quantitative", "axis": null}, "y": {"field": "v", "type": "quantitative", "axis": null}, "text": {"field": "t"}}}
   ]},
  {"width": 370, "height": 183, "data": {"name": "p6"},
   "layer": [
    {"mark": {"type": "point", "opacity": 1, "strokeWidth": 1.7, "size": 95},
     "encoding": {
      "x": {"field": "w", "type": "quantitative", "scale": {"domain": [-0.2, 10.27], "nice": false, "zero": false}, "axis": {"orient": "top", "values": [0,2,4,6,8,10], "labels": false, "title": null}},
      "y": {"field": "v", "type": "quantitative", "scale": {"domain": [-0.00001, 0.006994], "nice": false, "zero": false}, "axis": {"orient": "right", "values": [0, 0.002, 0.004, 0.006], "labels": false, "title": null}},
      "stroke": {"field": "s", "type": "nominal", "scale": {"domain": ["neutral gap (sphere)", "neutral gap (disk)", "charge gap (sphere)", "charge gap (disk)"], "range": ["#0000ff", "#0000ff", "#008000", "#008000"]}, "legend": {"title": null, "orient": "bottom-left", "symbolSize": 45, "rowPadding": -3}},
      "fill": {"field": "s", "type": "nominal", "scale": {"domain": ["neutral gap (sphere)", "neutral gap (disk)", "charge gap (sphere)", "charge gap (disk)"], "range": ["#0000ff", "transparent", "#008000", "transparent"]}, "legend": {"title": null, "orient": "bottom-left", "symbolSize": 45, "rowPadding": -3}},
      "shape": {"field": "s", "type": "nominal", "scale": {"domain": ["neutral gap (sphere)", "neutral gap (disk)", "charge gap (sphere)", "charge gap (disk)"], "range": ["square", "square", "M0,-1.085L0.2694,-0.2558L1.1412,-0.2558L0.4356,0.2566L0.7056,1.0858L0,0.5734L-0.7056,1.0858L-0.4356,0.2566L-1.1412,-0.2558L-0.2694,-0.2558Z", "M0,-1.085L0.2694,-0.2558L1.1412,-0.2558L0.4356,0.2566L0.7056,1.0858L0,0.5734L-0.7056,1.0858L-0.4356,0.2566L-1.1412,-0.2558L-0.2694,-0.2558Z"]}, "legend": {"title": null, "orient": "bottom-left", "symbolSize": 45, "rowPadding": -3}}
     }},
    {"mark": {"type": "line", "strokeDash": [2, 2.5], "strokeWidth": 2},
     "encoding": {
      "x": {"field": "w", "type": "quantitative", "axis": {"orient": "bottom", "values": [0,2,4,6,8,10], "title": "quantum well-width w/ℓ"}},
      "y": {"field": "v", "type": "quantitative", "axis": {"orient": "left", "values": [0, 0.002, 0.004, 0.006], "format": ".3f", "titleFontSize": 18, "titlePadding": 1, "title": "gaps Δ (e²/(ϵℓ))"}},
      "stroke": {"field": "s", "type": "nominal", "legend": null}
     }},
    {"data": {"values": [{"w": 9.79, "v": 0.000637, "t": "N = 8,\u00a0 2Q = 44"}]},
     "mark": {"type": "text", "align": "right", "baseline": "middle", "font": "Liberation Serif", "fontWeight": "bold", "fontSize": 19, "color": "#000"},
     "encoding": {"x": {"field": "w", "type": "quantitative", "axis": null}, "y": {"field": "v", "type": "quantitative", "axis": null}, "text": {"field": "t"}}}
   ]}
 ]}
]
}
